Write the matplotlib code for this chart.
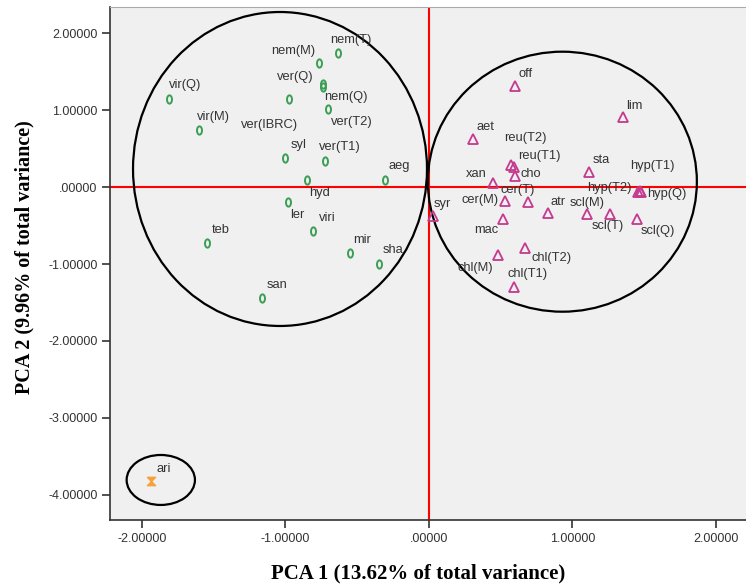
import numpy as np
import matplotlib
matplotlib.use("Agg")
import matplotlib.pyplot as plt
from matplotlib.path import Path
from matplotlib.patches import Ellipse
from matplotlib.transforms import Affine2D

# group 1 (green)
g1_names = ["vir(Q)", "vir(M)", "nem(T)", "nem(M)", "ver(Q)", "ver(IBRC)", "nem(Q)", "ver(T2)",
            "syl", "ver(T1)", "aeg", "hyd", "ler", "viri", "teb", "mir", "sha", "san"]
g1_x = [-1.81, -1.60, -0.632, -0.769, -0.976, -0.741, -0.737, -0.706,
        -1.001, -0.725, -0.304, -0.850, -0.980, -0.806, -1.545, -0.550, -0.346, -1.164]
g1_y = [1.14, 0.74, 1.744, 1.606, 1.143, 1.34, 1.30, 1.009,
        0.372, 0.338, 0.091, 0.091, -0.199, -0.571, -0.731, -0.861, -1.004, -1.437]

# group 2 (magenta)
g2_names = ["off", "lim", "aet", "reu(T2)", "reu(T1)", "cho", "xan", "sta", "hyp(T1)", "hyp(T2)",
            "hyp(Q)", "cer(M)", "cer(T)", "atr", "scl(M)", "scl(T)", "scl(Q)", "mac", "syr",
            "chl(T2)", "chl(M)", "chl(T1)"]
g2_x = [0.599, 1.354, 0.309, 0.575, 0.590, 0.599, 0.444, 1.115, 1.470, 1.460,
        1.475, 0.530, 0.692, 0.832, 1.099, 1.261, 1.452, 0.518, 0.026,
        0.669, 0.483, 0.594]
g2_y = [1.312, 0.913, 0.623, 0.285, 0.262, 0.143, 0.056, 0.199, -0.050, -0.065,
        -0.070, -0.182, -0.199, -0.333, -0.355, -0.355, -0.416, -0.420, -0.372,
        -0.788, -0.883, -1.294]

# group 3 (orange)
g3_names = ["ari"]
g3_x = [-1.940]
g3_y = [-3.817]

xticks = [-2, -1, 0, 1, 2]
xtick_labels = ["-2.00000", "-1.00000", ".00000", "1.00000", "2.00000"]
yticks = [2, 1, 0, -1, -2, -3, -4]
ytick_labels = ["2.00000", "1.00000", ".00000", "-1.00000", "-2.00000", "-3.00000", "-4.00000"]

# label offsets in pixels (dx, dy) from the marker
offsets = {
    "vir(Q)": (16, 14), "vir(M)": (14, 13), "nem(T)": (13, 13), "nem(M)": (-25, 12),
    "ver(Q)": (6, 22), "ver(IBRC)": (-53, -41), "nem(Q)": (23, -10), "ver(T2)": (24, -13),
    "syl": (13, 13), "ver(T1)": (15, 14), "aeg": (14, 14), "hyd": (13, -13), "ler": (9, -13),
    "viri": (14, 13), "teb": (13, 13), "mir": (12, 13), "sha": (14, 14), "san": (15, 13),
    "off": (11, 12), "lim": (11, 11), "aet": (12, 12), "reu(T2)": (14, 27), "reu(T1)": (26, 11),
    "cho": (16, 2), "xan": (-16, 9), "sta": (12, 12), "hyp(T1)": (13, 25), "hyp(T2)": (-29, 4),
    "hyp(Q)": (26, -2), "cer(M)": (-25, 1), "cer(T)": (-11, 12), "atr": (10, 11),
    "scl(M)": (1, 11), "scl(T)": (-2, -12), "scl(Q)": (21, -12), "mac": (-17, -11),
    "syr": (10, 12), "chl(T2)": (27, -10), "chl(M)": (-23, -13), "chl(T1)": (13, 13),
    "ari": (13, 12),
}

oval = Path.unit_circle().transformed(Affine2D().scale(0.6, 1.0))
hourglass = Path([(-1, 1), (1, 1), (0, 0), (1, -1), (-1, -1), (0, 0), (-1, 1)])

fig = plt.figure(figsize=(7.46, 5.86), dpi=100)
ax = fig.add_axes([110 / 746, 66 / 586, 636 / 746, 513 / 586])
ax.set_facecolor("#f0f0f0")

ax.axhline(0, color="red", lw=1.5, zorder=1)
ax.axvline(0, color="red", lw=1.5, zorder=1)

for c, w, h in [((-1.038, 0.234), 2.049, 4.078), ((0.930, 0.069), 1.875, 3.377),
                ((-1.869, -3.805), 0.476, 0.649)]:
    ax.add_patch(Ellipse(c, w, h, fill=False, ec="black", lw=1.6, zorder=2))

ax.plot(g1_x, g1_y, ls="none", marker=oval, ms=6, mfc="none", mec="#3a9f55", mew=1.4, zorder=3)
ax.plot(g2_x, g2_y, ls="none", marker="^", ms=7, mfc="none", mec="#c33a8f", mew=1.3, zorder=3)
ax.plot(g3_x, g3_y, ls="none", marker=hourglass, ms=6, mfc="#f7a13a", mec="#f7a13a", zorder=3)

for names, xs, ys in [(g1_names, g1_x, g1_y), (g2_names, g2_x, g2_y), (g3_names, g3_x, g3_y)]:
    for n, x, y in zip(names, xs, ys):
        ax.annotate(n, (x, y), xytext=offsets[n], textcoords="offset pixels",
                    ha="center", va="center", fontsize=9.3, color="#333333",
                    family="Liberation Sans", zorder=4)

ax.set_xlim(-2.223, 2.21)
ax.set_ylim(-4.325, 2.338)
ax.set_xticks(xticks)
ax.set_xticklabels(xtick_labels)
ax.set_yticks(yticks)
ax.set_yticklabels(ytick_labels)
ax.tick_params(length=6, width=1.2, color="#333333", labelcolor="#333333", labelsize=9, pad=3)
for lab in ax.get_xticklabels() + ax.get_yticklabels():
    lab.set_family("Liberation Sans")
ax.spines["right"].set_visible(False)
for s in ["left", "bottom", "top"]:
    ax.spines[s].set_color("#333333")
    ax.spines[s].set_linewidth(1.2)
ax.spines["top"].set_color("#aaaaaa")
ax.spines["top"].set_linewidth(0.8)

fig.text(418 / 746, 1 - 573 / 586, "PCA 1 (13.62% of total variance)", ha="center", va="center",
         fontsize=15, fontweight="bold", family="Liberation Serif")
fig.text(24 / 746, 1 - 257 / 586, "PCA 2 (9.96% of total variance)", ha="center", va="center",
         rotation=90, fontsize=14.5, fontweight="bold", family="Liberation Serif")

fig.savefig("out.png", dpi=100, facecolor="white")
